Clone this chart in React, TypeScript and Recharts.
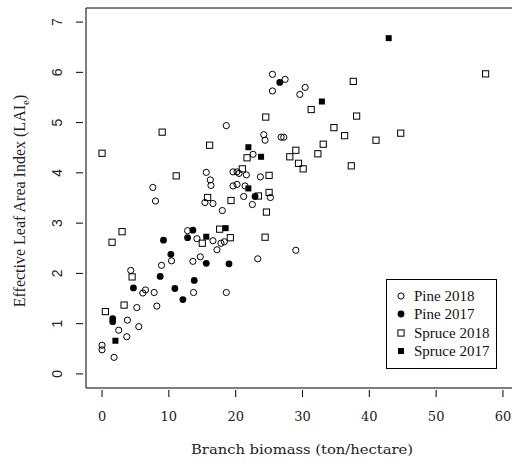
import React from 'react';
import { ScatterChart, Scatter, XAxis, YAxis, ReferenceArea, Legend } from 'recharts';

// Pine 2018 (open circles)
const pine2018X = [7.6, 8.0, 15.6, 16.2, 16.3, 19.6, 20.2, 20.5, 21.6, 23.7, 19.6, 20.2, 21.4, 21.2, 25.2, 22.5, 15.4, 16.6, 18.0, 12.8, 14.2, 16.6, 17.8, 18.3, 17.2, 29.0, 23.3, 14.7, 13.6, 10.4, 8.9, 4.3, 6.5, 6.1, 7.8, 13.7, 18.6, 5.2, 8.2, 3.8, 5.5, 2.5, 3.7, 0, 0, 1.8, 25.5, 27.4, 25.5, 29.6, 30.4, 18.6, 24.2, 24.4, 26.8, 27.2, 22.6];
const pine2018Y = [3.71, 3.44, 4.01, 3.86, 3.75, 4.02, 4.02, 3.99, 3.96, 3.92, 3.74, 3.77, 3.74, 3.53, 3.51, 3.37, 3.41, 3.39, 3.25, 2.85, 2.69, 2.65, 2.6, 2.63, 2.47, 2.46, 2.29, 2.33, 2.24, 2.25, 2.16, 2.06, 1.67, 1.61, 1.62, 1.62, 1.62, 1.32, 1.35, 1.07, 0.94, 0.87, 0.74, 0.57, 0.48, 0.33, 5.96, 5.86, 5.63, 5.56, 5.7, 4.94, 4.76, 4.65, 4.71, 4.71, 4.37];

// Pine 2017 (filled circles)
const pine2017X = [26.6, 22.9, 13.6, 12.8, 9.2, 10.3, 15.6, 19.0, 8.7, 13.8, 4.7, 10.9, 12.1, 1.6, 1.6];
const pine2017Y = [5.8, 3.53, 2.86, 2.71, 2.66, 2.38, 2.2, 2.19, 1.94, 1.86, 1.71, 1.7, 1.48, 1.1, 1.04];

// Spruce 2018 (open squares)
const spruce2018X = [57.4, 37.6, 31.3, 38.1, 34.7, 36.3, 41.0, 44.7, 33.1, 29.0, 28.1, 32.3, 29.4, 30.1, 37.3, 24.5, 9.0, 16.1, 0, 11.1, 21.0, 25.0, 21.7, 15.8, 19.3, 23.4, 25.0, 24.6, 17.6, 15.0, 19.2, 24.4, 3.0, 1.5, 4.5, 3.3, 0.5];
const spruce2018Y = [5.97, 5.82, 5.26, 5.13, 4.9, 4.74, 4.65, 4.79, 4.57, 4.45, 4.32, 4.38, 4.19, 4.08, 4.14, 5.11, 4.81, 4.55, 4.39, 3.94, 4.08, 3.95, 4.3, 3.51, 3.45, 3.54, 3.61, 3.22, 2.88, 2.6, 2.71, 2.72, 2.83, 2.62, 1.93, 1.37, 1.24];

// Spruce 2017 (filled squares)
const spruce2017X = [42.9, 32.9, 21.9, 23.8, 21.9, 18.5, 15.6, 2.0];
const spruce2017Y = [6.68, 5.42, 4.51, 4.32, 3.69, 2.9, 2.73, 0.66];

const seriesNames = ['Pine 2018', 'Pine 2017', 'Spruce 2018', 'Spruce 2017'];
const xTicks = [0, 10, 20, 30, 40, 50, 60];
const yTicks = [0, 1, 2, 3, 4, 5, 6, 7];

const toPoints = (xs: number[], ys: number[]) => xs.map((x, i) => ({ x, y: ys[i] }));

const OpenCircle = (p: any) => <circle cx={p.cx} cy={p.cy} r={3.1} fill="none" stroke="#000" strokeWidth={1} />;
const FilledCircle = (p: any) => <circle cx={p.cx} cy={p.cy} r={3.4} fill="#000" />;
const OpenSquare = (p: any) => <rect x={p.cx - 3.1} y={p.cy - 3.1} width={6.2} height={6.2} fill="none" stroke="#000" strokeWidth={1} />;
const FilledSquare = (p: any) => <rect x={p.cx - 3} y={p.cy - 3} width={6} height={6} fill="#000" />;

const symbols: Record<string, (p: any) => React.ReactElement> = {
  'Pine 2018': OpenCircle,
  'Pine 2017': FilledCircle,
  'Spruce 2018': OpenSquare,
  'Spruce 2017': FilledSquare,
};

function XTick({ x, y, payload }: any) {
  return (
    <g>
      <line x1={x} x2={x} y1={y + 2} y2={y + 9} stroke="#000" />
      <text x={x} y={y + 33} textAnchor="middle" fontFamily="DejaVu Serif" fontSize={13} fill="#222">
        {payload.value}
      </text>
    </g>
  );
}

function YTick({ x, y, payload }: any) {
  return (
    <g>
      <line x1={x - 10} x2={x - 3} y1={y} y2={y} stroke="#000" />
      <text
        transform={`translate(${x - 24},${y}) rotate(-90)`}
        textAnchor="middle"
        fontFamily="Liberation Sans"
        fontSize={14}
        fill="#222"
      >
        {payload.value}
      </text>
    </g>
  );
}

// legend keeps the original plot's order
function LegendBox() {
  return (
    <div style={{ border: '1px solid #000', background: '#fff', padding: '7px 0 8px 0', width: 109 }}>
      {seriesNames.map((name) => {
        const Sym = symbols[name];
        return (
          <div key={name} style={{ display: 'flex', alignItems: 'center', height: 18.3 }}>
            <svg width={27} height={18} style={{ flex: 'none' }}>
              <Sym cx={14} cy={9} />
            </svg>
            <span style={{ fontFamily: 'Liberation Serif', fontSize: 15, color: '#111', lineHeight: '18px' }}>{name}</span>
          </div>
        );
      })}
    </div>
  );
}

export default function App() {
  return (
    <div style={{ position: 'absolute', left: 0, top: 0, width: 512, height: 466, overflow: 'hidden', background: '#fff' }}>
      <ScatterChart width={519} height={466} margin={{ top: 8, right: 0, bottom: 0, left: 0 }}>
        <XAxis
          type="number"
          dataKey="x"
          domain={[-2.4, 62.4]}
          ticks={xTicks}
          interval={0}
          allowDataOverflow
          axisLine={false}
          tickLine={false}
          tickSize={0}
          tickMargin={0}
          height={78}
          tick={<XTick />}
          label={{
            content: () => (
              <text x={302} y={454} textAnchor="middle" fontFamily="DejaVu Serif" fontSize={13} fill="#222" textLength={222} lengthAdjust="spacingAndGlyphs">
                Branch biomass (ton/hectare)
              </text>
            ),
          }}
        />
        <YAxis
          type="number"
          dataKey="y"
          domain={[-0.28, 7.28]}
          ticks={yTicks}
          interval={0}
          allowDataOverflow
          axisLine={false}
          tickLine={false}
          tickSize={0}
          tickMargin={0}
          width={86}
          tick={<YTick />}
          label={{
            content: () => (
              <text transform="translate(25,201) rotate(-90)" textAnchor="middle" fontFamily="Liberation Serif" fontSize={16} fill="#222">
                Effective Leaf Area Index (LAI
                <tspan fontSize={11} dy={4}>e</tspan>
                <tspan dy={-4}>)</tspan>
              </text>
            ),
          }}
        />
        <ReferenceArea x1={-2.4} x2={62.4} y1={-0.28} y2={7.28} fill="none" stroke="#000" strokeWidth={1} ifOverflow="visible" />
        <Scatter name="Pine 2018" data={toPoints(pine2018X, pine2018Y)} shape={OpenCircle} isAnimationActive={false} />
        <Scatter name="Pine 2017" data={toPoints(pine2017X, pine2017Y)} shape={FilledCircle} isAnimationActive={false} />
        <Scatter name="Spruce 2018" data={toPoints(spruce2018X, spruce2018Y)} shape={OpenSquare} isAnimationActive={false} />
        <Scatter name="Spruce 2017" data={toPoints(spruce2017X, spruce2017Y)} shape={FilledSquare} isAnimationActive={false} />
        <Legend
          layout="vertical"
          align="center"
          verticalAlign="middle"
          content={<LegendBox />}
          wrapperStyle={{ left: 386, top: 279, width: 111, bottom: 'auto', right: 'auto' }}
        />
      </ScatterChart>
    </div>
  );
}
